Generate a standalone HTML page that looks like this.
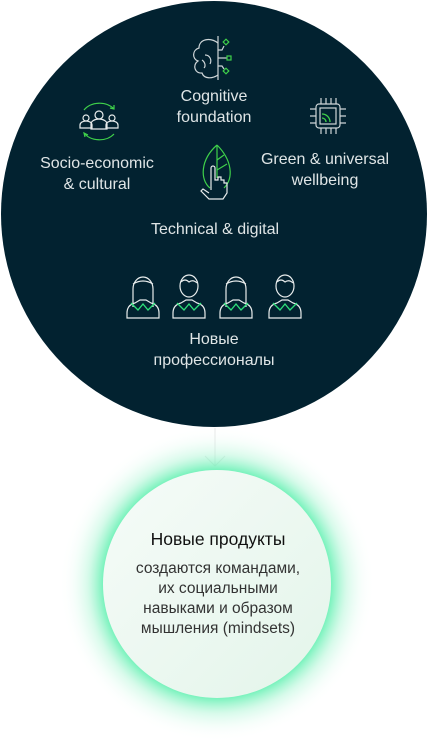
<!DOCTYPE html>
<html><head><meta charset="utf-8"><style>
html,body{margin:0;padding:0;background:#fff;}
body{width:428px;height:739px;position:relative;overflow:hidden;font-family:"Liberation Sans","Noto Sans CJK SC",sans-serif;}
svg{position:absolute;left:0;top:0;}
</style></head><body>
<svg width="428" height="739" viewBox="0 0 428 739" xmlns="http://www.w3.org/2000/svg">
<defs>
<radialGradient id="glow" cx="0.5" cy="0.5" r="0.5">
<stop offset="0.72" stop-color="#5ff0b0" stop-opacity="0.85"/>
<stop offset="0.82" stop-color="#a8f5d2" stop-opacity="0.45"/>
<stop offset="0.92" stop-color="#e0fbef" stop-opacity="0.2"/>
<stop offset="1" stop-color="#ffffff" stop-opacity="0"/>
</radialGradient>
<linearGradient id="fill" x1="0" y1="0" x2="1" y2="1">
<stop offset="0" stop-color="#f6fbf8"/>
<stop offset="1" stop-color="#e3f5ea"/>
</linearGradient>
</defs>
<circle cx="214" cy="214" r="213" fill="#022230"/>
<line x1="215" y1="428" x2="215" y2="466" stroke="#e6e6e6" stroke-width="1"/>
<polyline points="205,456 215,466 225,456" fill="none" stroke="#e6e6e6" stroke-width="1"/>
<circle cx="217" cy="584" r="158" fill="url(#glow)"/>
<circle cx="217" cy="584" r="114" fill="url(#fill)"/>
<!-- brain icon -->
<g fill="none" stroke="#cfd6d8" stroke-width="1.2">
<line x1="218" y1="36" x2="218" y2="80"/>
<path d="M218 43 C210 37 199 39 199 48 C192 50 192 59 198 61 C192 65 195 74 202 73 C204 79 212 79 218 75"/>
<path d="M205 55 C210 55 212 60 210 64"/><path d="M202 60 C205 62 206 66 204 68"/>
<polyline points="218,50 222,50 224,46"/><line x1="218" y1="58" x2="227" y2="58"/><polyline points="218,66 222,66 224,69"/>
</g>
<g fill="none" stroke="#3fd14a" stroke-width="1.2">
<rect x="224" y="40" width="4" height="4" transform="rotate(45 226 42)"/><rect x="227" y="56" width="4" height="4"/><rect x="224" y="69" width="4" height="4" transform="rotate(45 226 71)"/>
</g>
<!-- people icon -->
<g fill="none" stroke="#e8ecec" stroke-width="1.2">
<circle cx="86" cy="118" r="3"/><path d="M80 128 v-3 a6 4 0 0 1 12 0 v3 z"/>
<circle cx="99" cy="115" r="4"/><path d="M91 129 v-5 a8 5 0 0 1 16 0 v5 z"/>
<circle cx="112" cy="118" r="3"/><path d="M106 128 v-3 a6 4 0 0 1 12 0 v3 z"/>
</g>
<g fill="none" stroke="#3fd14a" stroke-width="1.2">
<path d="M84 110 A18 14 0 0 1 114 109"/><polyline points="110,108 114,109 114,105"/>
<path d="M84 133 A18 14 0 0 0 114 134"/><polyline points="88,135 84,133 85,137"/>
</g>
<!-- chip icon -->
<g fill="none" stroke="#cfd6d8" stroke-width="1.2">
<rect x="316" y="104" width="24" height="24" rx="3"/><rect x="320" y="108" width="16" height="16"/>
<path d="M321 98v6M326 98v6M331 98v6M336 98v6M321 128v6M326 128v6M331 128v6M336 128v6M310 109h6M310 116h6M310 123h6M340 109h6M340 116h6M340 123h6"/>
</g>
<g fill="none" stroke="#3fd14a" stroke-width="1.3"><path d="M322 114 a8 8 0 0 1 8 8"/><path d="M322 118 a4 4 0 0 1 4 4"/></g>
<!-- leaf -->
<g fill="none" stroke="#3fd14a" stroke-width="1.2"><path d="M217 145 C200 160 200 180 210 188 M217 145 C232 160 234 178 224 188"/><line x1="217" y1="145" x2="217" y2="178"/><path d="M217 160 l7 -5M217 170 l10 -6"/></g>
<g fill="none" stroke="#e8ecec" stroke-width="1.2"><path d="M211 190 v-22 a2 2 0 0 1 4 0 v12 h3 v-3 h3 v3 h3 v3 h3 v10 l-4 6 h-14 l-8 -8 l2 -2 l6 4"/></g>
<!-- persons -->
<g fill="none" stroke="#e8ecec" stroke-width="1.2">
<g transform="translate(143 0)"><path d="M-10 307 v-18 a10 12 0 0 1 20 0 v18"/><path d="M-10 284 q10 -6 20 0"/><path d="M-16 318 v-5 q0-8 8-10 l5-3 h6 l5 3 q8 2 8 10 v5 z"/></g>
<g transform="translate(189 0)"><ellipse cx="0" cy="286" rx="9" ry="11"/><path d="M-8 282 q4 -4 8 0 q4 -3 8 1"/><path d="M-16 318 v-5 q0-8 8-10 l5-3 h6 l5 3 q8 2 8 10 v5 z"/></g>
<g transform="translate(236 0)"><path d="M-10 307 v-18 a10 12 0 0 1 20 0 v18"/><path d="M-10 284 q10 -6 20 0"/><path d="M-16 318 v-5 q0-8 8-10 l5-3 h6 l5 3 q8 2 8 10 v5 z"/></g>
<g transform="translate(285 0)"><ellipse cx="0" cy="286" rx="9" ry="11"/><path d="M-8 282 q4 -4 8 0 q4 -3 8 1"/><path d="M-16 318 v-5 q0-8 8-10 l5-3 h6 l5 3 q8 2 8 10 v5 z"/></g>
</g>
<g fill="none" stroke="#2ee07a" stroke-width="1.3">
<polyline transform="translate(143 0)" points="-12,303 -5,310 0,304 5,310 12,303"/>
<polyline transform="translate(189 0)" points="-12,303 -5,310 0,304 5,310 12,303"/>
<polyline transform="translate(236 0)" points="-12,303 -5,310 0,304 5,310 12,303"/>
<polyline transform="translate(285 0)" points="-12,303 -5,310 0,304 5,310 12,303"/>
</g>
<g fill="#dfe5e6" font-family="Liberation Sans, sans-serif" font-size="16" text-anchor="middle">
<text x="214" y="101">Cognitive</text><text x="214" y="122">foundation</text>
<text x="97" y="168">Socio-economic</text><text x="97" y="189">&amp; cultural</text>
<text x="325" y="164">Green &amp; universal</text><text x="325" y="185">wellbeing</text>
<text x="215" y="234">Technical &amp; digital</text>
<text x="214" y="344">Новые</text><text x="214" y="365">профессионалы</text>
</g>
<g font-family="Liberation Sans, sans-serif" text-anchor="middle">
<text x="218" y="545" font-size="17.5" fill="#111">Новые продукты</text>
<g font-size="15.5" fill="#333">
<text x="218" y="573">создаются командами,</text>
<text x="218" y="593">их социальными</text>
<text x="218" y="613">навыками и образом</text>
<text x="218" y="633">мышления (mindsets)</text>
</g></g>
</svg>
</body></html>
